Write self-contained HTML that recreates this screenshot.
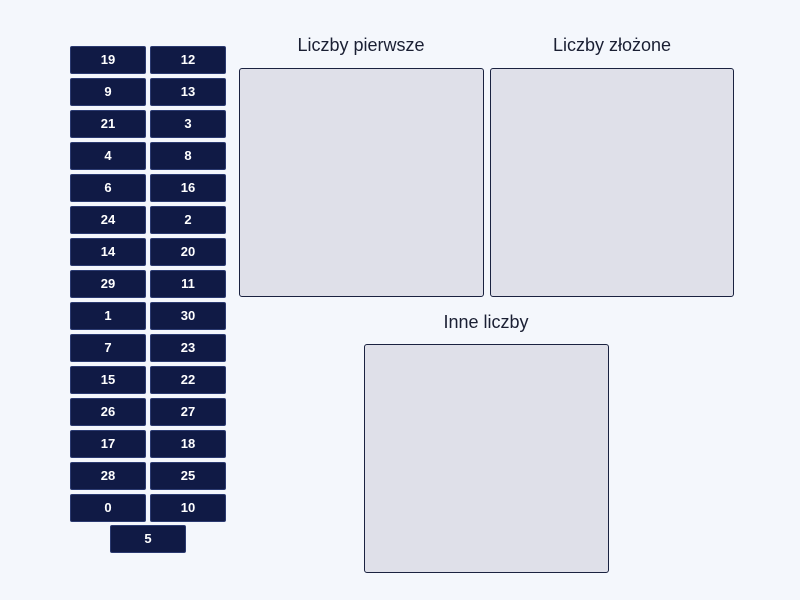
<!DOCTYPE html><html><head><style>
body{margin:0;width:800px;height:600px;background:#f4f7fc;position:relative;font-family:"Liberation Sans",sans-serif;overflow:hidden}
.t{position:absolute;width:74px;height:26px;background:#101a45;border:1px solid #2b3a70;border-radius:2px;color:#fff;font-size:13px;font-weight:bold;text-align:center;line-height:26px}
.b{position:absolute;background:#dfe0e9;border:1px solid #1a2240;border-radius:3px;box-sizing:border-box}
.h{position:absolute;font-size:18px;color:#1a1f33;text-align:center;width:244px}
</style></head><body>
<div id="tiles"></div>
<div class="h" style="left:239px;top:35px">Liczby pierwsze</div>
<div class="h" style="left:490px;top:35px">Liczby złożone</div>
<div class="h" style="left:364px;top:312px">Inne liczby</div>
<div class="b" style="left:239px;top:68px;width:245px;height:229px"></div>
<div class="b" style="left:490px;top:68px;width:244px;height:229px"></div>
<div class="b" style="left:364px;top:344px;width:245px;height:229px"></div>
<script>
var L=[19,9,21,4,6,24,14,29,1,7,15,26,17,28,0],R=[12,13,3,8,16,2,20,11,30,23,22,27,18,25,10],h='';
for(var i=0;i<15;i++){h+='<div class="t" style="left:70px;top:'+(46+32*i)+'px">'+L[i]+'</div><div class="t" style="left:150px;top:'+(46+32*i)+'px">'+R[i]+'</div>';}
h+='<div class="t" style="left:110px;top:525px">5</div>';
document.getElementById('tiles').innerHTML=h;
</script>
</body></html>
